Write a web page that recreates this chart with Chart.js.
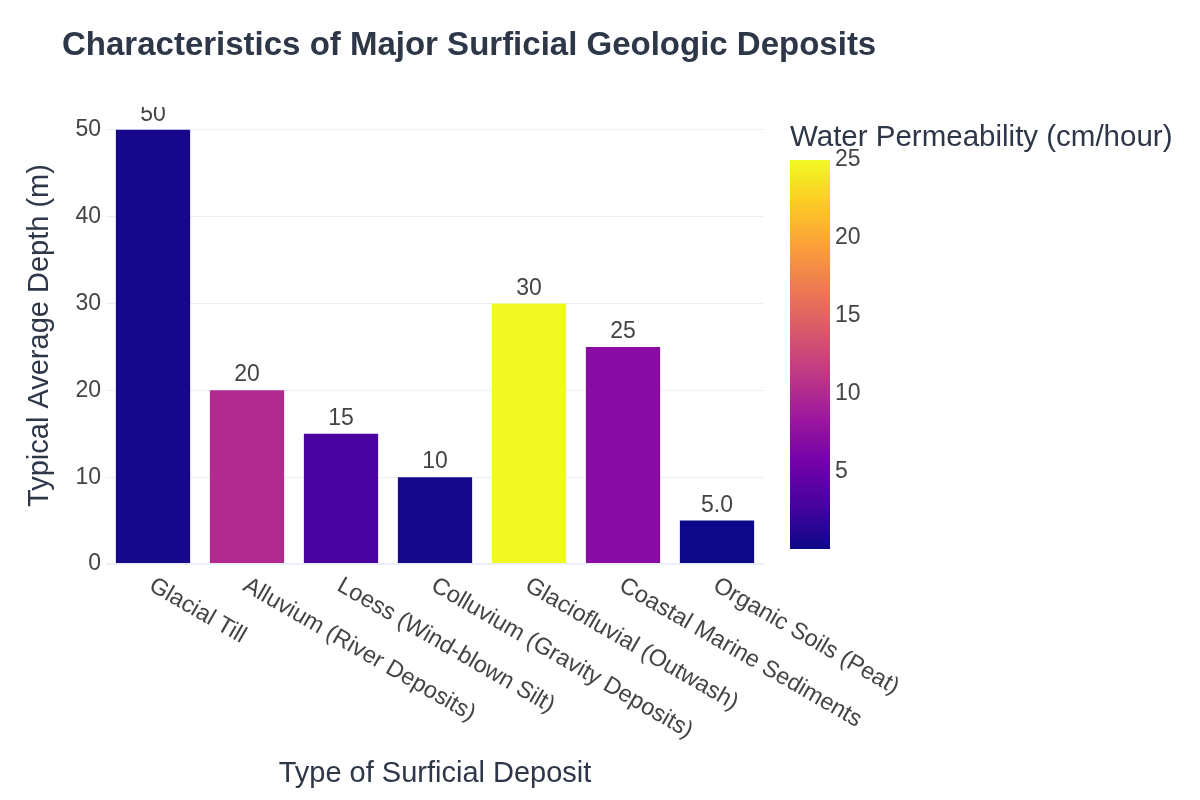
<!DOCTYPE html>
<html>
<head>
<meta charset="utf-8">
<title>Characteristics of Major Surficial Geologic Deposits</title>
<script src="https://cdn.jsdelivr.net/npm/chart.js@4"></script>
<style>
  html, body { margin: 0; padding: 0; background: #fff; }
</style>
</head>
<body>
<canvas id="chart" width="1200" height="800"></canvas>
<script>
// data
const deposits = [
  'Glacial Till',
  'Alluvium (River Deposits)',
  'Loess (Wind-blown Silt)',
  'Colluvium (Gravity Deposits)',
  'Glaciofluvial (Outwash)',
  'Coastal Marine Sediments',
  'Organic Soils (Peat)'
];
const depth = [50, 20, 15, 10, 30, 25, 5];
const permeability = [0.5, 10, 3, 0.5, 25, 7, 0.01];
const depthTicks = [0, 10, 20, 30, 40, 50];
const permTicks = [5, 10, 15, 20, 25];

const TITLE = 'Characteristics of Major Surficial Geologic Deposits';
const X_TITLE = 'Type of Surficial Deposit';
const Y_TITLE = 'Typical Average Depth (m)';
const CB_TITLE = 'Water Permeability (cm/hour)';

const FONT = '"Liberation Sans", Arial, sans-serif';
const TEXT = '#2d3748';
const TICK = '#444';

// plotly "Plasma" stops
const plasma = ['#0d0887', '#46039f', '#7201a8', '#9c179e', '#bd3786',
                '#d8576b', '#ed7953', '#fb9f3a', '#fdca26', '#f0f921'];
const cmin = Math.min(...permeability), cmax = Math.max(...permeability);

function hex(h) { return [1, 3, 5].map(i => parseInt(h.substr(i, 2), 16)); }
function plasmaAt(t) {
  t = Math.max(0, Math.min(1, t));
  const n = plasma.length - 1;
  const i = Math.min(n - 1, Math.floor(t * n));
  const f = t * n - i;
  const a = hex(plasma[i]), b = hex(plasma[i + 1]);
  return 'rgb(' + a.map((v, k) => Math.round(v + (b[k] - v) * f)).join(',') + ')';
}
const barColors = permeability.map(p => plasmaAt((p - cmin) / (cmax - cmin)));

// extra drawing: titles, slanted category labels, value labels, colorbar
const decor = {
  id: 'decor',
  afterDatasetsDraw(chart) {
    const ctx = chart.ctx, area = chart.chartArea;
    const meta = chart.getDatasetMeta(0);
    ctx.save();
    ctx.beginPath();
    ctx.rect(area.left, area.top, area.right - area.left, area.bottom - area.top);
    ctx.clip();
    ctx.font = '23px ' + FONT;
    ctx.fillStyle = TICK;
    ctx.textAlign = 'center';
    ctx.textBaseline = 'alphabetic';
    meta.data.forEach((bar, i) => {
      const v = depth[i];
      const txt = v >= 10 ? v.toFixed(0) : v.toFixed(1);
      ctx.fillText(txt, bar.x, bar.y - 9);
    });
    ctx.restore();
  },
  afterDraw(chart) {
    const ctx = chart.ctx, area = chart.chartArea;
    const xs = chart.scales.x;
    ctx.save();

    // main title
    ctx.fillStyle = TEXT;
    ctx.font = 'bold 33px ' + FONT;
    ctx.textAlign = 'left';
    ctx.textBaseline = 'alphabetic';
    ctx.fillText(TITLE, 62, 55);

    // slanted category labels
    ctx.font = '23.5px ' + FONT;
    ctx.fillStyle = TICK;
    ctx.textBaseline = 'middle';
    deposits.forEach((d, i) => {
      const x = xs.getPixelForValue(i);
      ctx.save();
      ctx.translate(x - 2, area.bottom + 20);
      ctx.rotate(Math.PI / 6);
      ctx.textAlign = 'left';
      ctx.fillText(d, 0, 0);
      ctx.restore();
    });

    // axis titles
    ctx.fillStyle = TEXT;
    ctx.font = '29px ' + FONT;
    ctx.textAlign = 'center';
    ctx.fillText(X_TITLE, (area.left + area.right) / 2, 774);
    ctx.save();
    ctx.translate(40, (area.top + area.bottom) / 2);
    ctx.rotate(-Math.PI / 2);
    ctx.fillText(Y_TITLE, 0, 0);
    ctx.restore();

    // colorbar
    const cbX = 790, cbW = 40, cbTop = 160, cbBot = 549;
    const yOf = v => cbBot - (v - cmin) / (cmax - cmin) * (cbBot - cbTop);
    const g = ctx.createLinearGradient(0, cbBot, 0, cbTop);
    plasma.forEach((c, i) => g.addColorStop(i / (plasma.length - 1), c));
    ctx.fillStyle = g;
    ctx.fillRect(cbX, cbTop, cbW, cbBot - cbTop);

    ctx.fillStyle = TICK;
    ctx.font = '23px ' + FONT;
    ctx.textAlign = 'left';
    ctx.textBaseline = 'middle';
    permTicks.forEach(t => ctx.fillText(String(t), cbX + cbW + 5, yOf(t)));

    ctx.fillStyle = TEXT;
    ctx.font = '29.5px ' + FONT;
    ctx.textBaseline = 'alphabetic';
    ctx.fillText(CB_TITLE, cbX, 146);

    ctx.restore();
  }
};

new Chart(document.getElementById('chart'), {
  type: 'bar',
  data: {
    labels: deposits,
    datasets: [{
      data: depth,
      backgroundColor: barColors,
      borderWidth: 0,
      barPercentage: 0.79,
      categoryPercentage: 1
    }]
  },
  options: {
    responsive: false,
    animation: false,
    devicePixelRatio: 1,
    layout: { padding: { top: 107, bottom: 236, left: 0, right: 436 } },
    plugins: {
      legend: { display: false },
      title: { display: false },
      tooltip: { enabled: false }
    },
    scales: {
      x: {
        ticks: { display: false },
        grid: { display: false },
        border: { display: false },
        afterFit: s => { s.height = 0; }
      },
      y: {
        min: 0,
        max: 52.63,
        afterBuildTicks: s => { s.ticks = depthTicks.map(v => ({ value: v })); },
        afterFit: s => { s.width = 106; },
        ticks: {
          padding: 5,
          color: TICK,
          font: { family: FONT, size: 23 }
        },
        grid: {
          drawTicks: false,
          color: '#ebf0f8',
          lineWidth: c => (c.tick && c.tick.value === 0 ? 2 : 1)
        },
        border: { display: false }
      }
    }
  },
  plugins: [decor]
});
</script>
</body>
</html>
